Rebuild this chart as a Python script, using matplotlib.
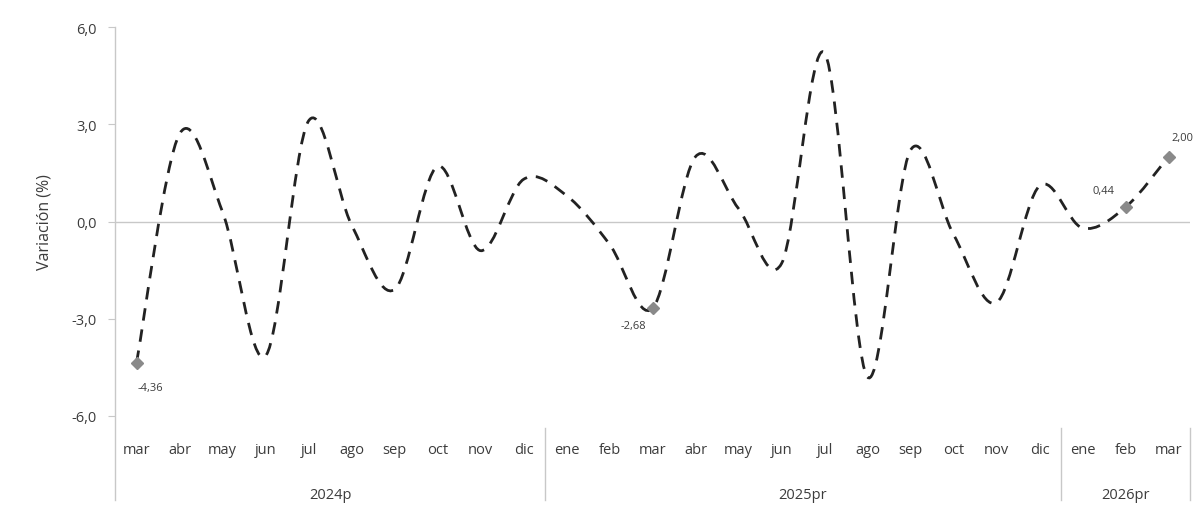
import numpy as np
import matplotlib
matplotlib.use("Agg")
import matplotlib.pyplot as plt
from matplotlib.path import Path
from matplotlib.patches import PathPatch
import matplotlib.transforms as mtransforms

plt.rcParams['font.family'] = ['Open Sans', 'DejaVu Sans']

# datos: variación mensual (%)
months = ["mar", "abr", "may", "jun", "jul", "ago", "sep", "oct", "nov", "dic",
          "ene", "feb", "mar", "abr", "may", "jun", "jul", "ago", "sep", "oct", "nov", "dic",
          "ene", "feb", "mar"]
values = [-4.36, 2.7, 0.3, -4.15, 3.1, -0.1, -2.1, 1.7, -0.9, 1.3,
          0.8, -0.7, -2.68, 2.0, 0.4, -1.3, 5.2, -4.8, 2.2, -0.4, -2.5, 1.1,
          -0.2, 0.44, 2.00]
years = ["2024p", "2025pr", "2026pr"]
year_sizes = [10, 12, 3]
labeled = [0, 12, 23, 24]

TXT = "#3c3c3c"
GRID = "#c8c8c8"

fig = plt.figure(figsize=(11.95, 5.10), dpi=100)
ax = fig.add_axes([115 / 1195, 93 / 510, 1075 / 1195, 389 / 510])

x = np.arange(len(values))
y = np.array(values)

# línea suavizada tipo Excel (Bezier con tangentes Catmull-Rom)
pts = np.column_stack([x, y]).astype(float)
ext = np.vstack([pts[0], pts, pts[-1]])
verts = [pts[0]]
codes = [Path.MOVETO]
for i in range(len(pts) - 1):
    p0, p1, p2, p3 = ext[i], ext[i + 1], ext[i + 2], ext[i + 3]
    verts += [p1 + (p2 - p0) / 6, p2 - (p3 - p1) / 6, p2]
    codes += [Path.CURVE4] * 3
patch = PathPatch(Path(verts, codes), fill=False, edgecolor="#222222",
                  linewidth=2.0, linestyle=(0, (4.5, 3.2)), zorder=3)
ax.add_patch(patch)

ax.axhline(0, color=GRID, lw=1, zorder=1)

ax.plot(x[labeled], y[labeled], linestyle="none", marker="D", markersize=6,
        color="#8a8a8a", zorder=4)
offsets = {0: (10, -18), 12: (-14, -12), 23: (-16, 12), 24: (10, 14)}
for i in labeled:
    dx, dy = offsets[i]
    ax.annotate(f"{values[i]:.2f}".replace(".", ","), (x[i], y[i]),
                xytext=(dx, dy), textcoords="offset points", ha="center", va="center",
                fontsize=8, color=TXT)

ax.set_xlim(-0.5, len(values) - 0.5)
ax.set_ylim(-6, 6)
ax.set_yticks([-6, -3, 0, 3, 6])
ax.set_yticklabels([f"{v:.1f}".replace(".", ",") for v in [-6, -3, 0, 3, 6]])
ax.tick_params(axis="y", colors=GRID, labelcolor=TXT, labelsize=10.5, length=5, pad=8)
ax.set_xticks([])
for s in ["top", "right", "bottom", "left"]:
    ax.spines[s].set_visible(False)
ax.set_ylabel("Variación (%)", fontsize=11.5, color=TXT, labelpad=14)

trans = mtransforms.blended_transform_factory(ax.transData, ax.transAxes)
# eje vertical extendido
ax.plot([-0.5, -0.5], [1.0, -0.215], transform=trans, color=GRID, lw=1, clip_on=False)
for i, m in enumerate(months):
    ax.text(i, -0.087, m, transform=trans, ha="center", va="center",
            fontsize=10.5, color=TXT)
start = 0
for yr, n in zip(years, year_sizes):
    ax.text(start + n / 2 - 0.5, -0.203, yr, transform=trans, ha="center",
            va="center", fontsize=10.5, color=TXT)
    end = start + n - 0.5
    ax.plot([end, end], [-0.03, -0.215], transform=trans, color=GRID, lw=1,
            clip_on=False)
    start += n

fig.savefig("out.png", dpi=100)
